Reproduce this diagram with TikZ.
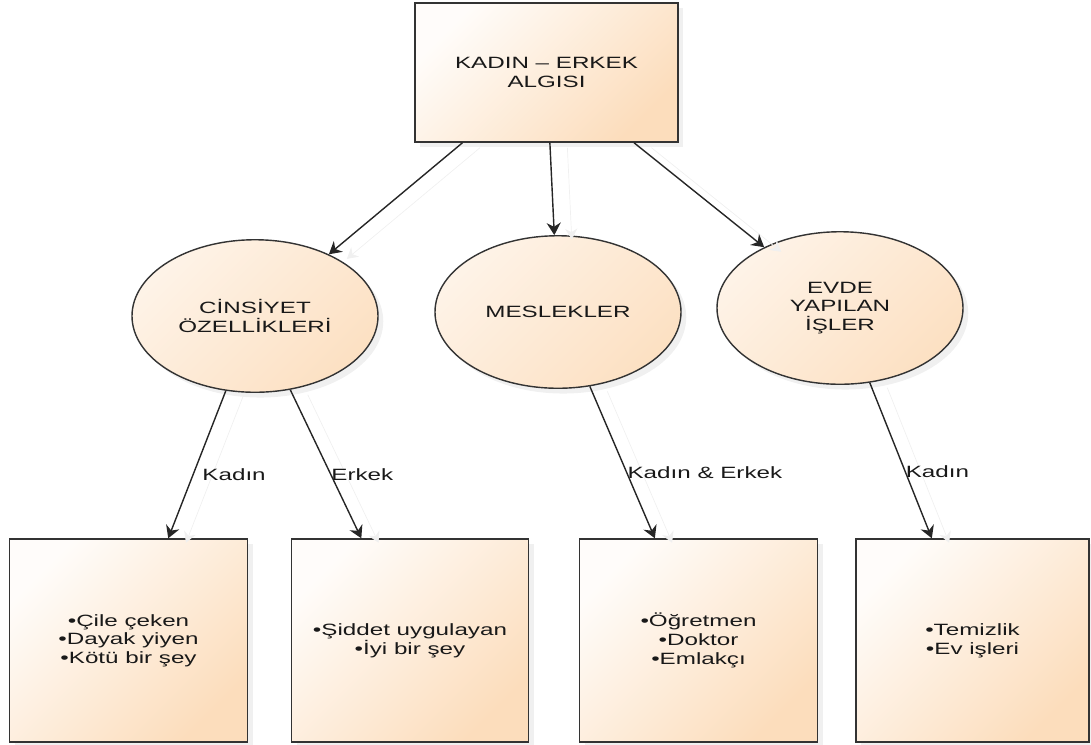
\documentclass[tikz,border=0pt]{standalone}
\usepackage{fontspec}
\setmainfont{Liberation Sans}[FakeStretch=1.48]
\usepackage{tikz}
\usetikzlibrary{shapes.geometric, arrows.meta, shadows}
\definecolor{peach}{RGB}{252,221,188}
\tikzset{
    concept/.style = {
        rectangle, draw=black!80, line width=0.8pt,
        top color=peach!8, bottom color=peach, shading angle=45,
        drop shadow={shadow xshift=3pt, shadow yshift=-3pt, opacity=0.12},
        minimum width=5.26cm,
        minimum height=2.78cm,
        align=center
    },
    topic/.style = {
        ellipse, draw=black!80, line width=0.8pt,
        top color=peach!35, bottom color=peach!90, shading angle=45,
        drop shadow={shadow xshift=3pt, shadow yshift=-3pt, opacity=0.12},
        minimum width=4.92cm,
        minimum height=3.05cm,
        align=center
    },
    itembox/.style = {
        rectangle, draw=black!80, line width=0.8pt,
        top color=peach!8, bottom color=peach, shading angle=45,
        drop shadow={shadow xshift=3pt, shadow yshift=-3pt, opacity=0.12},
        minimum width=4.75cm,
        minimum height=4.06cm,
        align=center
    },
    arrow/.style = {
        -{Stealth[length=7pt, width=8pt]}, line width=0.8pt, draw=black!85,
        preaction={draw=black!6, transform canvas={shift={(0.35,-0.1)}}}
    },
    lbl/.style = {anchor=west, inner sep=0pt, pos=0.57}
}

\begin{document}
\begin{tikzpicture}[font=\fontsize{9.3}{10.6}\selectfont, text=black!90]

\useasboundingbox (0,0) rectangle (21.82,-14.88);

\node (algi) [concept] at (10.93,-1.45) {KADIN – ERKEK\\ALGISI};
\node (cins) [topic] at (5.10,-6.32) {CİNSİYET\\ÖZELLİKLERİ};
\node (meslek) [topic] at (11.16,-6.24) {MESLEKLER};
\node (evde) [topic] at (16.80,-6.16) {EVDE\\YAPILAN\\İŞLER};
\node (kadin) [itembox] at (2.57,-12.81) {•Çile çeken\\•Dayak yiyen\\•Kötü bir şey};
\node (erkek) [itembox] at (8.20,-12.81) {•Şiddet uygulayan\\•İyi bir şey};
\node (isler) [itembox] at (13.97,-12.81) {•Öğretmen\\•Doktor\\•Emlakçı};
\node (ev) [itembox, minimum width=4.66cm] at (19.45,-12.81) {•Temizlik\\•Ev işleri};

\draw [arrow] (algi) -- (cins);
\draw [arrow] (algi) -- (meslek);
\draw [arrow] (algi) -- (evde);
\draw [arrow] (cins) -- node[lbl, xshift=5pt] {Kadın} (kadin);
\draw [arrow] (cins) -- node[lbl] {Erkek} (erkek);
\draw [arrow] (meslek) -- node[lbl] {Kadın \& Erkek} (isler);
\draw [arrow] (evde) -- node[lbl] {Kadın} (ev);

\end{tikzpicture}
\end{document}
